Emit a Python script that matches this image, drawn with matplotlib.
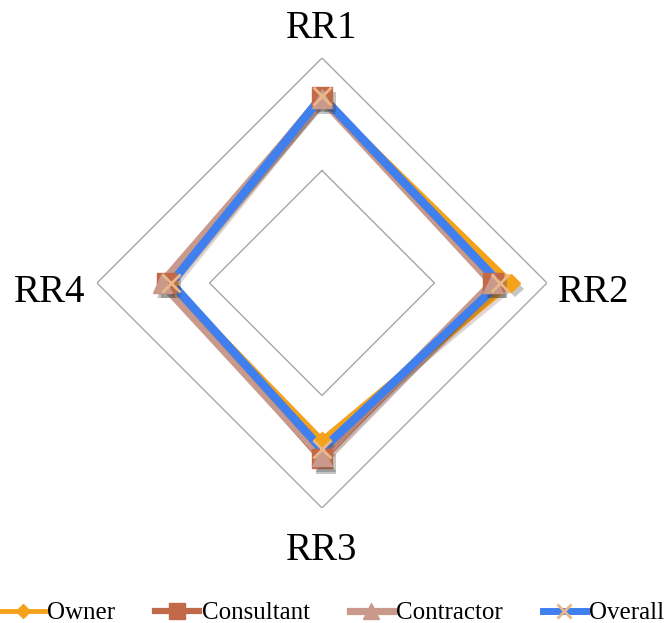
import numpy as np
import matplotlib.pyplot as plt
import matplotlib.patheffects as pe

# radar of RR scores, scaled 0..1
axes_names = ['RR1', 'RR2', 'RR3', 'RR4']
owner = [0.82, 0.84, 0.70, 0.68]
consultant = [0.83, 0.76, 0.78, 0.69]
contractor = [0.82, 0.76, 0.77, 0.71]
overall = [0.83, 0.79, 0.74, 0.67]
grid_levels = [0.5, 1.0]

plt.rcParams['font.family'] = ['Liberation Serif', 'DejaVu Serif']

fig = plt.figure(figsize=(6.69, 6.23), dpi=100)
ax = fig.add_axes([0.145, 0.1846, 0.6726, 0.7223], projection='polar')
ax.set_theta_offset(np.pi / 2)
ax.set_theta_direction(-1)

theta = np.linspace(0, 2 * np.pi, len(axes_names), endpoint=False)
th_closed = np.append(theta, theta[0])

# straight-edged grid instead of circles
for lv in grid_levels:
    ax.plot(th_closed, [lv] * len(th_closed), color='#a6a6a6', lw=1.0, zorder=1)

series = [
    ('Owner', owner, '#F5A21B', 4.5, 'D', 9, '#F5A21B'),
    ('Consultant', consultant, '#C2694A', 5.5, 's', 14, '#C2694A'),
    ('Contractor', contractor, '#C99A8C', 6.2, '^', 14, '#C99A8C'),
    ('Overall', overall, '#3F80EE', 6.0, 'x', 13, '#E8B78A'),
]

shadow = [pe.SimpleLineShadow(offset=(1.5, -2), alpha=0.2, shadow_color='#603020'), pe.Normal()]
mshadow = [pe.SimplePatchShadow(offset=(3, -4), alpha=0.3, shadow_rgbFace='#404040'), pe.Normal()]

handles = []
for i, (name, vals, col, lw, mk, ms, mcol) in enumerate(series):
    v = np.append(vals, vals[0])
    ax.plot(th_closed, v, color=col, lw=lw, solid_joinstyle='miter',
            path_effects=shadow, zorder=2 + i)
    if mk == 'x':
        ax.plot(theta, vals, ls='none', marker=mk, ms=ms, mew=2.0,
                color=mcol, zorder=10 + i)
    else:
        ax.plot(theta, vals, ls='none', marker=mk, ms=ms, mfc=mcol, mec=mcol,
                path_effects=mshadow, zorder=10 + i)
    h, = ax.plot([], [], color=col, lw=lw - 1, marker=mk, ms=ms,
                 mfc=mcol, mec=mcol, mew=2.0 if mk == 'x' else 1.0)
    handles.append(h)

ax.set_ylim(0, 1.0)
ax.set_yticks([])
ax.set_xticks([])
ax.grid(False)
ax.spines['polar'].set_visible(False)

# axis names around the chart (side labels sit a bit below the spoke)
ax.text(theta[0], 1.13, axes_names[0], ha='center', va='center', fontsize=28)
ax.text(theta[1] + 0.035, 1.21, axes_names[1], ha='center', va='center', fontsize=28)
ax.text(theta[2], 1.19, axes_names[2], ha='center', va='center', fontsize=28)
ax.text(theta[3] - 0.035, 1.21, axes_names[3], ha='center', va='center', fontsize=28)

fig.legend(handles, [s[0] for s in series], loc='center', bbox_to_anchor=(0.497, 0.016),
           ncol=4, frameon=False, fontsize=18, handlelength=1.75, handletextpad=0.1,
           columnspacing=1.6, markerscale=0.8)

fig.savefig('out.png', dpi=100)
